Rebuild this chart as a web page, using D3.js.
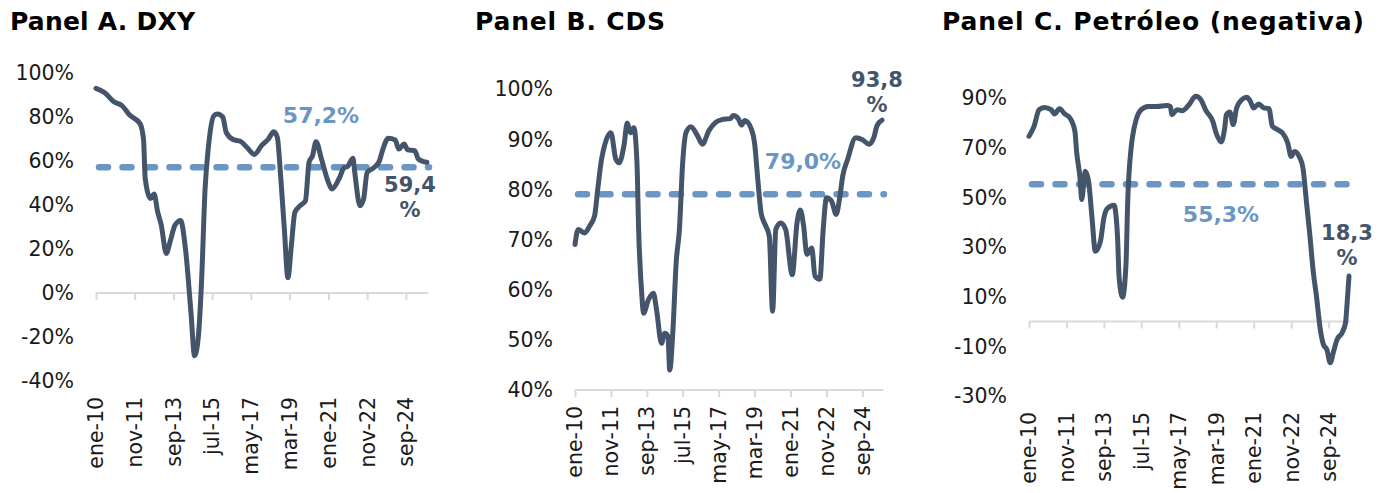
<!DOCTYPE html>
<html>
<head>
<meta charset="utf-8">
<script src="https://cdn.jsdelivr.net/npm/d3@7"></script>
<style>
    body { margin: 0; background: #ffffff; }
    svg { display: block; font-family: 'DejaVu Sans', sans-serif; }
    .panel-title { font-size: 25px; font-weight: bold; fill: #000000; }
    .avg-label { font-size: 22px; font-weight: bold; fill: #6b96c4; }
    .last-label { font-size: 21px; font-weight: bold; fill: #44546a; }
</style>
</head>
<body>
<div id="chart"></div>
<script>
const WIDTH = 1387;
const HEIGHT = 493;
const LINE_COLOR = '#44546a';
const AVG_COLOR = '#6b96c4';
const AXIS_COLOR = '#d9d9d9';
const LABEL_FONT = "'DejaVu Sans', sans-serif";

// months counted from ene-10
const tickLabels = ['ene-10', 'nov-11', 'sep-13', 'jul-15', 'may-17', 'mar-19', 'ene-21', 'nov-22', 'sep-24'];
const mesesEs = ['ene', 'feb', 'mar', 'abr', 'may', 'jun', 'jul', 'ago', 'sep', 'oct', 'nov', 'dic'];
const lastMonth = 188; // sep-25

// Panel A. DXY
const dxyMonths = [0, 5, 10, 15, 19, 25, 27, 28, 31, 33, 35, 37, 40, 42, 45, 48, 51, 54, 56, 58,
    60, 62, 64, 67, 69, 72, 74, 78, 82, 86, 90, 94, 98, 101, 103, 105, 107, 109, 111, 113,
    116, 119, 121, 123, 125, 128, 132, 134, 138, 141, 143, 146, 147, 150, 152, 154, 158, 161, 163, 166,
    170, 172, 175, 177, 181, 183, 186, 188];
const dxyValues = [93, 91, 87, 85, 81, 77, 70, 52, 43, 45, 37, 31, 18, 23, 31, 33, 19, -9, -28.5, -21,
    6, 47, 67, 80.6, 81.4, 80, 73, 69.7, 69, 66, 63, 67, 70, 73.3, 70.8, 52, 29, 7, 21.5, 36.7,
    39.7, 42, 59.4, 62.4, 68.8, 61, 50.3, 47.3, 51.8, 57, 57.6, 61.2, 54.8, 39.7, 42.7, 54.8, 57, 60, 65.4, 70.3,
    69.5, 65.4, 67.7, 65.1, 64.7, 61, 59.7, 59.4];
const dxyAverage = 57.2;
const dxyTicks = [-40, -20, 0, 20, 40, 60, 80, 100];

// Panel B. CDS
const cdsMonths = [0, 2, 6, 9, 12, 14, 16, 19, 22, 25, 27, 30, 32, 34, 36, 38, 39, 41, 42, 45,
    48, 50, 53, 55, 57, 58, 60, 62, 64, 66, 68, 71, 75, 78, 82, 86, 90, 95, 97, 100,
    102, 104, 108, 110, 112, 114, 116, 119, 121, 123, 126, 129, 133, 136, 138, 140, 142, 145, 147, 150,
    152, 154, 157, 160, 162, 164, 167, 172, 176, 180, 183, 185, 188];
const cdsValues = [69, 72, 71.3, 72.7, 74.7, 80, 85.3, 89.7, 91.3, 86, 85.3, 88.7, 93.2, 91.3, 92.3, 85.3, 72, 58.7, 55.3, 58,
    59.3, 56, 49.3, 51.3, 50.7, 44, 52, 65.3, 72, 85.3, 91.3, 92.5, 90.7, 89, 91.7, 93.3, 93.9, 94.1, 94.7, 94.1,
    92.8, 93.7, 92, 89.3, 82, 75.3, 73.3, 70.7, 55.7, 72, 73.3, 72, 63, 73.3, 75.9, 72.7, 67, 68.3, 62.7, 62.1,
    72, 78.3, 77.7, 75, 78, 82.7, 86, 90.3, 89.9, 89, 90.3, 92.7, 93.8];
const cdsAverage = 79.0;
const cdsTicks = [40, 50, 60, 70, 80, 90, 100];

// Panel C. Petróleo (negativa)
const oilMonths = [0, 3, 6, 9, 13, 15, 18, 21, 24, 27, 28, 30, 31, 33, 35, 37, 39, 42, 44, 46,
    50, 52, 53, 55, 57, 58, 60, 61, 63, 66, 70, 75, 81, 83, 84, 87, 90, 94, 98, 101,
    104, 108, 110, 113, 115, 116, 118, 120, 122, 125, 128, 130, 132, 135, 138, 141, 143, 146, 149, 152,
    154, 156, 159, 161, 163, 165, 167, 169, 171, 173, 175, 177, 179, 181, 184, 186, 187, 188];
const oilValues = [74.6, 78.6, 85.3, 86.2, 85.3, 83.6, 85.7, 83.6, 82, 76.6, 68.5, 57.8, 49.1, 60.5, 56.5, 41.7, 28.3, 32.3, 41.7, 45.5,
    46.8, 35, 17.6, 9.8, 22.9, 48.4, 69.9, 75.2, 81.3, 85.3, 86.6, 86.6, 87, 86.6, 83.3, 85.3, 84.9, 87.3, 90.7, 89.3,
    84.9, 80.6, 75.9, 72.3, 77.9, 83.3, 84.4, 79.3, 86, 89.3, 90.3, 88.7, 86, 87.6, 86, 85.7, 78.6, 77.3, 75.9, 71.9,
    66.5, 68.5, 66.1, 61.8, 48.4, 35, 20.2, 9.5, -2.5, -9.3, -11.3, -16.6, -11.9, -7.2, -4.5, -0.5, 8.2, 18.3];
const oilAverage = 55.3;
const oilTicks = [-30, -10, 10, 30, 50, 70, 90];

const START = new Date(2010, 0, 1);
const monthDate = m => d3.timeMonth.offset(START, m);
const parseTick = label => {
    const [mes, yy] = label.split('-');
    return new Date(2000 + +yy, mesesEs.indexOf(mes), 1);
};
const fmtPct = v => d3.format('.1f')(v).replace('.', ',') + '%';

const svg = d3.select('#chart')
    .append('svg')
    .attr('width', WIDTH)
    .attr('height', HEIGHT);

const panels = [
    {
        title: 'Panel A. DXY', titleX: 10, titleWidth: 185,
        months: dxyMonths, values: dxyValues, average: dxyAverage, ticks: dxyTicks,
        xRange: [96, 427], yDomain: [-40, 100], yRange: [381, 73],
        avgLabel: { x: 321, y: 123 }, lastLabel: { x: 410, y: 192 }
    },
    {
        title: 'Panel B. CDS', titleX: 475, titleWidth: 190,
        months: cdsMonths, values: cdsValues, average: cdsAverage, ticks: cdsTicks,
        xRange: [575, 882], yDomain: [40, 100], yRange: [390, 89],
        avgLabel: { x: 803, y: 169 }, lastLabel: { x: 877, y: 87 }
    },
    {
        title: 'Panel C. Petróleo (negativa)', titleX: 942, titleWidth: 422,
        months: oilMonths, values: oilValues, average: oilAverage, ticks: oilTicks,
        xRange: [1029, 1349], yDomain: [-30, 90], yRange: [396, 98],
        avgLabel: { x: 1221, y: 222 }, lastLabel: { x: 1347, y: 240 }
    }
];

panels.forEach(drawPanel);

function styleAxisText(sel) {
    sel.style('font-family', LABEL_FONT)
        .style('font-size', '20.5px')
        .style('fill', '#1a1a1a');
}

function drawPanel(p) {
    const data = p.months.map((m, i) => ({ date: monthDate(m), value: p.values[i] }));

    const x = d3.scaleTime()
        .domain([START, monthDate(lastMonth)])
        .range(p.xRange);

    const y = d3.scaleLinear()
        .domain(p.yDomain)
        .range(p.yRange);

    const g = svg.append('g');

    g.append('text')
        .attr('class', 'panel-title')
        .attr('x', p.titleX)
        .attr('y', 30)
        .attr('textLength', p.titleWidth)
        .attr('lengthAdjust', 'spacing')
        .text(p.title);

    // y labels, no axis line
    const yAxis = d3.axisLeft(y)
        .tickValues(p.ticks)
        .tickSize(0)
        .tickPadding(22)
        .tickFormat(d => d + '%');

    const yAxisG = g.append('g')
        .attr('transform', `translate(${p.xRange[0]},0)`)
        .call(yAxis);
    yAxisG.select('.domain').remove();
    yAxisG.selectAll('text')
        .attr('dy', '0.34em')
        .call(styleAxisText);

    // x axis at zero (or bottom)
    const axisY = y(Math.max(0, p.yDomain[0]));
    const tickDates = tickLabels.map(parseTick);

    const xAxis = d3.axisBottom(x)
        .tickValues(tickDates)
        .tickSize(7)
        .tickFormat('');

    const xAxisG = g.append('g')
        .attr('transform', `translate(0,${axisY})`)
        .call(xAxis);
    xAxisG.select('.domain')
        .attr('d', `M${p.xRange[0]},0H${p.xRange[1] + 1.5}`)
        .attr('stroke', AXIS_COLOR)
        .attr('stroke-width', 2);
    xAxisG.selectAll('.tick line')
        .attr('stroke', AXIS_COLOR)
        .attr('stroke-width', 2);

    // x labels sit low, below the plot
    const labelTop = p.yRange[0] + 16;
    g.selectAll('.x-label')
        .data(tickDates)
        .enter()
        .append('text')
        .attr('class', 'x-label')
        .attr('text-anchor', 'end')
        .attr('dy', '0.36em')
        .attr('transform', d => `translate(${x(d)},${labelTop}) rotate(-90)`)
        .text((d, i) => tickLabels[i])
        .call(styleAxisText);

    // average line
    g.append('line')
        .attr('x1', p.xRange[0] + 3)
        .attr('x2', p.xRange[1] + 2)
        .attr('y1', y(p.average))
        .attr('y2', y(p.average))
        .attr('stroke', AVG_COLOR)
        .attr('stroke-width', 6.5)
        .attr('stroke-linecap', 'round')
        .attr('stroke-dasharray', '9,14.5');

    const line = d3.line()
        .x(d => x(d.date))
        .y(d => y(d.value))
        .curve(d3.curveMonotoneX);

    g.append('path')
        .datum(data)
        .attr('fill', 'none')
        .attr('stroke', LINE_COLOR)
        .attr('stroke-width', 5)
        .attr('stroke-linejoin', 'round')
        .attr('stroke-linecap', 'round')
        .attr('d', line);

    g.append('text')
        .attr('class', 'avg-label')
        .attr('text-anchor', 'middle')
        .attr('x', p.avgLabel.x)
        .attr('y', p.avgLabel.y)
        .text(fmtPct(p.average));

    // last value label, split over two lines
    const last = data[data.length - 1].value;
    const lastText = g.append('text')
        .attr('class', 'last-label')
        .attr('text-anchor', 'middle');
    lastText.append('tspan')
        .attr('x', p.lastLabel.x)
        .attr('y', p.lastLabel.y)
        .text(fmtPct(last).replace('%', ''));
    lastText.append('tspan')
        .attr('x', p.lastLabel.x)
        .attr('y', p.lastLabel.y + 25)
        .text('%');
}
</script>
</body>
</html>
